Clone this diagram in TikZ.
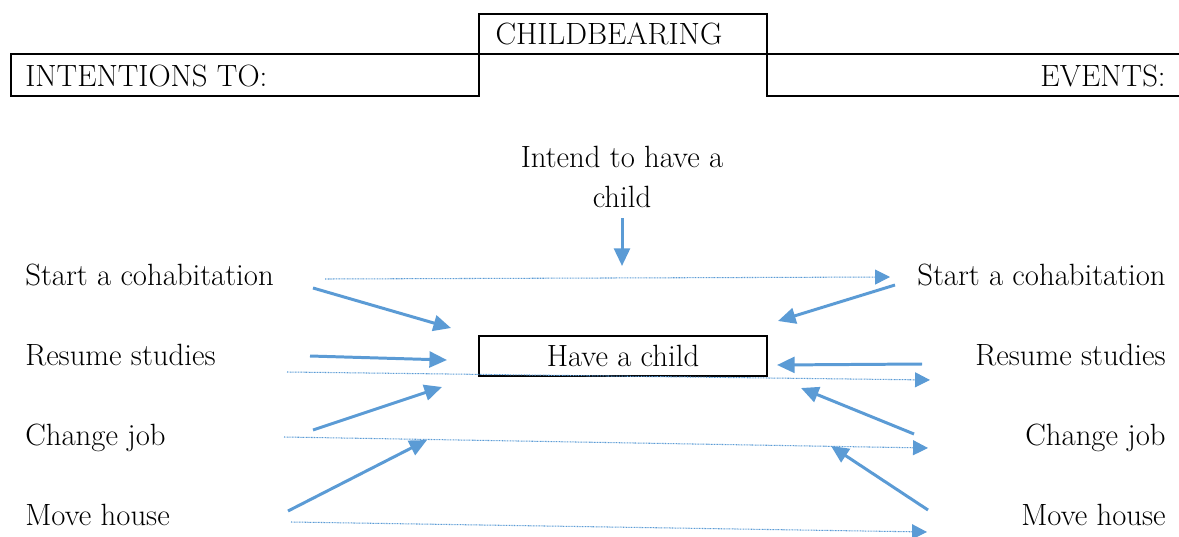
\documentclass[tikz,border=0pt]{standalone}
\usetikzlibrary{arrows.meta}
\definecolor{arrowBlue}{RGB}{91, 155, 213}

\begin{document}
\begin{tikzpicture}[
    x=0.02cm, y=-0.02cm,
    every node/.style={font=\fontsize{17.5}{22}\selectfont, inner sep=0pt},
    frame/.style={draw, line width=1.1pt},
    intention/.style={anchor=base west},
    event/.style={anchor=base east},
    push/.style={-{Triangle[length=10pt, width=9pt]}, arrowBlue, line width=1.7pt},
    carry/.style={-{Triangle[length=8.5pt, width=8.5pt]}, arrowBlue, line width=0.6pt, dash pattern=on 0.5pt off 0.4pt}
]
    \useasboundingbox (0,0) rectangle (1179,537);

    % header
    \draw[frame] (479,14) rectangle (767,54);
    \draw[frame] (11,54) rectangle (479,96);
    \draw[frame] (1185,54) -- (767,54) -- (767,96) -- (1185,96);
    \node[anchor=base] (bearing) at (609,45) {CHILDBEARING};
    \node[intention] (intentTo) at (25,87) {INTENTIONS TO:};
    \node[event] (events) at (1166,87) {EVENTS:};

    % centre
    \node[align=center, font=\fontsize{17.5}{22.5}\selectfont] (intend) at (622,177) {Intend to have a\\child};
    \node[frame, minimum width=5.76cm, minimum height=0.8cm] (child) at (623,356) {Have a child};

    % intentions
    \node[intention] (cohabL) at (25,285) {Start a cohabitation};
    \node[intention] (studyL) at (25,365) {Resume studies};
    \node[intention] (jobL)   at (25,445) {Change job};
    \node[intention] (houseL) at (25,525) {Move house};

    % events
    \node[event] (cohabR) at (1166,285) {Start a cohabitation};
    \node[event] (studyR) at (1166,365) {Resume studies};
    \node[event] (jobR)   at (1166,445) {Change job};
    \node[event] (houseR) at (1166,525) {Move house};

    % arrow ends
    \coordinate (intendTip) at (622,266);
    \coordinate (cohabIn)  at (451,328);
    \coordinate (studyIn)  at (447,360);
    \coordinate (jobIn)    at (442,387);
    \coordinate (houseIn)  at (427,440);
    \coordinate (cohabOut) at (313,288);
    \coordinate (studyOut) at (310,356);
    \coordinate (jobOut)   at (313,430);
    \coordinate (houseOut) at (288,511);
    \coordinate (cohabEv)  at (895,285);
    \coordinate (studyEv)  at (922,364);
    \coordinate (jobEv)    at (914,434);
    \coordinate (houseEv)  at (928,510);
    \coordinate (cohabBack) at (778,321);
    \coordinate (studyBack) at (777,365);
    \coordinate (jobBack)   at (801,388);
    \coordinate (houseBack) at (831,446);

    \draw[push] (intend.south |- 0,218) -- (intendTip);

    \draw[push] (cohabOut) -- (cohabIn);
    \draw[push] (studyOut) -- (studyIn);
    \draw[push] (jobOut) -- (jobIn);
    \draw[push] (houseOut) -- (houseIn);

    \draw[push] (cohabEv) -- (cohabBack);
    \draw[push] (studyEv) -- (studyBack);
    \draw[push] (jobEv) -- (jobBack);
    \draw[push] (houseEv) -- (houseBack);

    % intentions carried through to events
    \draw[carry] (325,279) coordinate (cohabFrom) -- (890,277) coordinate (cohabTo);
    \draw[carry] (287,372) coordinate (studyFrom) -- (930,380) coordinate (studyTo);
    \draw[carry] (284,437) coordinate (jobFrom) -- (928,448) coordinate (jobTo);
    \draw[carry] (291,522) coordinate (houseFrom) -- (927,532) coordinate (houseTo);
\end{tikzpicture}
\end{document}
